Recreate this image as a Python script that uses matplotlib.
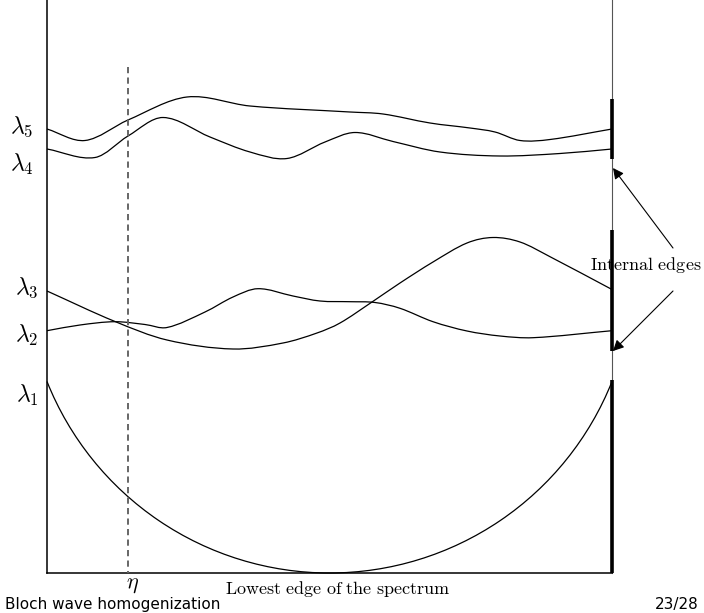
import matplotlib
matplotlib.use('Agg')
import matplotlib.pyplot as plt
import numpy as np
from matplotlib.path import Path
from matplotlib.patches import PathPatch, Arc

plt.rcParams['mathtext.fontset'] = 'cm'

# ====================== DATA (pixel coords of the slide) ======================
# band curves: (x, y) with y growing downwards
lam5_x = [47, 85, 128, 187, 250, 350, 383, 430, 470, 495, 520, 550, 612]
lam5_y = [129, 140.5, 120, 97, 106, 112, 114, 123, 128, 132, 140.5, 139.5, 129]

lam4_x = [47, 95, 128, 163, 210, 250, 287, 325, 355, 393, 440, 500, 560, 612]
lam4_y = [149, 157.5, 136, 117.5, 137, 152, 158.5, 142, 132.5, 141.5, 152, 156, 153.5, 149]

lam3_x = [47, 115, 167, 233, 283, 317, 340, 372, 400, 433, 467, 493, 520, 550, 612]
lam3_y = [291, 321.5, 340, 349, 343, 333, 323, 302, 283, 262, 243, 237.5, 242, 256.7, 289.5]

lam2_x = [47, 80, 115, 145, 167, 205, 233, 258, 293, 320, 350, 375, 400, 433, 467, 500, 533, 612]
lam2_y = [330.7, 325, 321.7, 324.5, 327.5, 312, 297, 288.7, 296, 301, 301.7, 302.5, 308.3, 321.7, 331, 336, 337.7, 330.7]

# lowest band: circular arc through its two ends and its bottom point
lam1_ends = [(47, 381.5), (612, 381.5)]
lam1_bottom = (329.5, 573)

# box
x_left, x_right, y_bottom = 47, 612, 573
eta_x, eta_top = 128, 67

# spectral bands marked on the right edge (y ranges)
bands = [(99, 159), (230, 351), (380, 573)]

# labels
lam_labels = [r'$\lambda_5$', r'$\lambda_4$', r'$\lambda_3$', r'$\lambda_2$', r'$\lambda_1$']
lam_label_pos = [(22, 127), (22, 164), (27, 288), (27, 335), (27, 395)]

arrow_tails = [(673, 248), (673, 291)]
arrow_heads = [(613, 168), (613, 351)]


def smooth_path(xs, ys):
    # cubic Hermite in x through the points, written as Bezier segments
    x = np.asarray(xs, float)
    y = np.asarray(ys, float)
    m = np.empty_like(y)
    m[1:-1] = (y[2:] - y[:-2]) / (x[2:] - x[:-2])
    m[0] = (y[1] - y[0]) / (x[1] - x[0])
    m[-1] = (y[-1] - y[-2]) / (x[-1] - x[-2])
    verts = [(x[0], y[0])]
    codes = [Path.MOVETO]
    for i in range(len(x) - 1):
        h = (x[i + 1] - x[i]) / 3
        verts += [(x[i] + h, y[i] + m[i] * h),
                  (x[i + 1] - h, y[i + 1] - m[i + 1] * h),
                  (x[i + 1], y[i + 1])]
        codes += [Path.CURVE4] * 3
    return Path(verts, codes)


fig = plt.figure(figsize=(7.04, 6.13), dpi=100)
ax = fig.add_axes([0, 0, 1, 1])
ax.set_xlim(0, 704)
ax.set_ylim(613, 0)
ax.axis('off')

# frame
ax.plot([x_left, x_left], [0, y_bottom], color='black', lw=1.1)
ax.plot([x_right, x_right], [0, y_bottom], color='#555555', lw=0.8)
ax.plot([x_left, x_right], [y_bottom, y_bottom], color='black', lw=1.1)

# eta dashed line
ax.plot([eta_x, eta_x], [eta_top, y_bottom], color='#666666', lw=1.4,
        linestyle=(0, (3.2, 2.2)))

# bands
for xs, ys in [(lam5_x, lam5_y), (lam4_x, lam4_y), (lam3_x, lam3_y), (lam2_x, lam2_y)]:
    ax.add_patch(PathPatch(smooth_path(xs, ys), fill=False, edgecolor='black', lw=0.9))

(ax1, ay1), (ax2, ay2) = lam1_ends
bx, by = lam1_bottom
half = (ax2 - ax1) / 2
sag = by - ay1
R = (half ** 2 + sag ** 2) / (2 * sag)
cx, cy = bx, by - R
t1 = np.degrees(np.arctan2(ay2 - cy, ax2 - cx))
t2 = np.degrees(np.arctan2(ay1 - cy, ax1 - cx))
ax.add_patch(Arc((cx, cy), 2 * R, 2 * R, theta1=t1, theta2=t2, color='black', lw=0.9))

# thick spectral bands on the right edge
for y0, y1 in bands:
    ax.plot([x_right, x_right], [y0, y1], color='black', lw=2.6, solid_capstyle='butt')

# labels
for lab, (lx, ly) in zip(lam_labels, lam_label_pos):
    ax.text(lx, ly, lab, fontsize=17, ha='center', va='center')

ax.text(133, 585, r'$\eta$', fontsize=16, ha='center', va='center')
ax.text(338, 589, r'$\mathrm{Lowest\ edge\ of\ the\ spectrum}$', fontsize=13,
        ha='center', va='center')
ax.text(646, 265, r'$\mathrm{Internal\ edges}$', fontsize=13, ha='center', va='center')

for tail, head in zip(arrow_tails, arrow_heads):
    ax.annotate('', xy=head, xytext=tail,
                arrowprops=dict(arrowstyle='-|>', color='black', lw=0.8,
                                mutation_scale=16, shrinkA=0, shrinkB=0))

# footer
ax.text(5, 604, 'Bloch wave homogenization', fontsize=11, ha='left', va='center',
        family='DejaVu Sans')
ax.text(699, 604, '23/28', fontsize=11, ha='right', va='center', family='DejaVu Sans')

plt.savefig('out.png', dpi=100)
